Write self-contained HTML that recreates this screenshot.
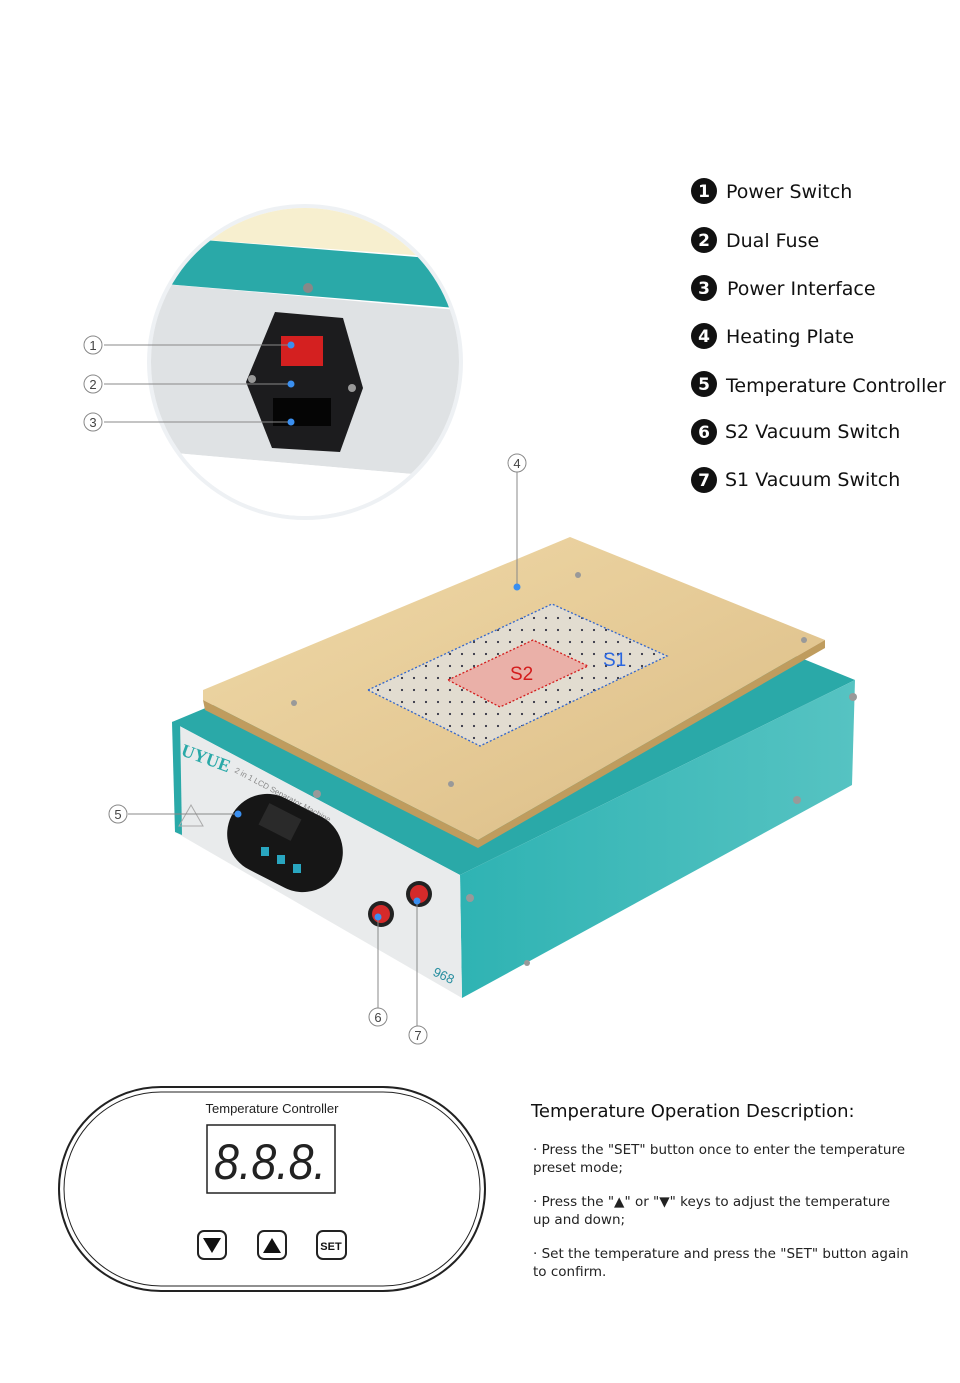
<!DOCTYPE html>
<html><head><meta charset="utf-8"><style>
body{margin:0;background:#fff;}
svg{display:block;font-family:"Liberation Sans","DejaVu Sans",sans-serif;}
</style></head><body>
<svg width="960" height="1383" viewBox="0 0 960 1383" xmlns="http://www.w3.org/2000/svg">
<rect width="960" height="1383" fill="#fff"/>
<defs>
<linearGradient id="gold" x1="0" y1="0" x2="1" y2="1"><stop offset="0" stop-color="#efd9a8"/><stop offset="0.5" stop-color="#e6cb97"/><stop offset="1" stop-color="#d9bb84"/></linearGradient>
<linearGradient id="teal" x1="0" y1="0" x2="1" y2="0"><stop offset="0" stop-color="#2fb3b3"/><stop offset="1" stop-color="#56c3c2"/></linearGradient>
<clipPath id="cc"><circle cx="305" cy="362" r="154"/></clipPath>
<pattern id="dots" width="12" height="12" patternUnits="userSpaceOnUse"><circle cx="6" cy="6" r="1.1" fill="#334"/></pattern>
</defs>

<circle cx="305" cy="362" r="158" fill="#eef1f4"/>
<g clip-path="url(#cc)">
<rect x="140" y="200" width="340" height="330" fill="#fff"/>
<polygon points="140,200 480,200 480,260 140,235" fill="#f7efcf"/>
<polygon points="140,235 480,262 480,310 140,282" fill="#2aa9a8"/>
<polygon points="140,282 480,312 480,480 140,450" fill="#dfe2e4"/>
<polygon points="140,450 480,480 480,530 140,530" fill="#fff"/>
<polygon points="275,312 343,318 363,388 340,452 272,448 246,382" fill="#1c1c1e"/>
<rect x="281" y="336" width="42" height="30" fill="#d42020"/>
<rect x="273" y="398" width="58" height="28" fill="#050505"/>
<circle cx="308" cy="288" r="5" fill="#888"/>
<circle cx="252" cy="379" r="4" fill="#999"/><circle cx="352" cy="388" r="4" fill="#999"/>
</g>
<g stroke="#888" stroke-width="1" fill="none">
<line x1="104" y1="345" x2="291" y2="345"/><line x1="104" y1="384" x2="291" y2="384"/><line x1="104" y1="422" x2="291" y2="422"/>
<circle cx="93" cy="345" r="9"/><circle cx="93" cy="384" r="9"/><circle cx="93" cy="422" r="9"/>
</g>
<g font-size="13" fill="#444" text-anchor="middle"><text x="93" y="350">1</text><text x="93" y="389">2</text><text x="93" y="427">3</text></g>
<g fill="#3a8ff0"><circle cx="291" cy="345" r="3.5"/><circle cx="291" cy="384" r="3.5"/><circle cx="291" cy="422" r="3.5"/></g>

<g font-size="19" fill="#111" font-family="DejaVu Sans, sans-serif">
<g fill="#111"><circle cx="704" cy="191" r="13"/><circle cx="704" cy="240" r="13"/><circle cx="704" cy="288" r="13"/><circle cx="704" cy="336" r="13"/><circle cx="704" cy="384" r="13"/><circle cx="704" cy="432" r="13"/><circle cx="704" cy="480" r="13"/></g>
<g fill="#fff" font-size="17" font-weight="bold" text-anchor="middle"><text x="704" y="197">1</text><text x="704" y="246">2</text><text x="704" y="294">3</text><text x="704" y="342">4</text><text x="704" y="390">5</text><text x="704" y="438">6</text><text x="704" y="486">7</text></g>
<text x="726" y="198">Power Switch</text>
<text x="726" y="247">Dual Fuse</text>
<text x="727" y="295">Power Interface</text>
<text x="726" y="343">Heating Plate</text>
<text x="726" y="392">Temperature Controller</text>
<text x="725" y="438">S2 Vacuum Switch</text>
<text x="725" y="486">S1 Vacuum Switch</text>
</g>

<polygon points="172,722 560,560 855,680 460,875" fill="#2aa9a8"/>
<polygon points="460,875 855,680 852,785 462,998" fill="url(#teal)"/>
<polygon points="172,722 460,875 462,998 175,832" fill="#e9ebec"/>
<polygon points="172,722 180,720 182,835 175,832" fill="#2aa9a8"/>
<polygon points="203,690 570,537 825,640 478,840 203,700" fill="url(#gold)"/>
<polygon points="203,700 478,840 825,640 825,648 478,848 205,710" fill="#bf9c5e"/>
<polygon points="368,690 552,604 667,656 480,746" fill="#e2dcd0"/>
<polygon points="368,690 552,604 667,656 480,746" fill="url(#dots)" stroke="#3366cc" stroke-width="1.3" stroke-dasharray="2,2"/>
<polygon points="448,680 533,640 588,666 500,707" fill="#eab0a8" stroke="#d41c1c" stroke-width="1.3" stroke-dasharray="2,2"/>
<text x="510" y="680" font-size="19" fill="#d41c1c">S2</text>
<text x="603" y="666" font-size="19" fill="#2a66e0">S1</text>
<g fill="#999"><circle cx="578" cy="575" r="3"/><circle cx="294" cy="703" r="3"/><circle cx="451" cy="784" r="3"/><circle cx="804" cy="640" r="3"/><circle cx="317" cy="794" r="4"/><circle cx="470" cy="898" r="4"/><circle cx="797" cy="800" r="4"/><circle cx="853" cy="697" r="4"/><circle cx="527" cy="963" r="3"/></g>
<text x="180" y="755" font-size="18" font-weight="bold" fill="#2aa9a8" font-family="Liberation Serif,serif" transform="rotate(20 180 755)">UYUE</text>
<text x="234" y="772" font-size="8" fill="#888" transform="rotate(28 234 772)">2 in 1 LCD Separator Machine</text>
<rect x="225" y="803" width="120" height="80" rx="40" fill="#161616" transform="rotate(27 285 843)"/>
<rect x="262" y="810" width="36" height="24" fill="#2a2a2a" transform="rotate(27 280 822)"/>
<g fill="#29a6c0"><rect x="261" y="847" width="8" height="9"/><rect x="277" y="855" width="8" height="9"/><rect x="293" y="864" width="8" height="9"/></g>
<circle cx="381" cy="914" r="13" fill="#222"/><circle cx="381" cy="914" r="9" fill="#d52a2a"/>
<circle cx="419" cy="894" r="13" fill="#222"/><circle cx="419" cy="894" r="9" fill="#d52a2a"/>
<text x="432" y="975" font-size="13" fill="#2a8fa0" transform="rotate(25 432 975)">968</text>
<polygon points="191,805 203,826 179,826" fill="none" stroke="#aaa"/>
<g stroke="#888" fill="none">
<line x1="517" y1="472" x2="517" y2="587"/><circle cx="517" cy="463" r="9"/>
<line x1="128" y1="814" x2="238" y2="814"/><circle cx="118" cy="814" r="9"/>
<line x1="378" y1="917" x2="378" y2="1008"/><circle cx="378" cy="1017" r="9"/>
<line x1="417" y1="898" x2="417" y2="1026"/><circle cx="418" cy="1035" r="9"/>
</g>
<g font-size="13" fill="#444" text-anchor="middle"><text x="517" y="468">4</text><text x="118" y="819">5</text><text x="378" y="1022">6</text><text x="418" y="1040">7</text></g>
<g fill="#3a8ff0"><circle cx="517" cy="587" r="3.5"/><circle cx="238" cy="814" r="3.5"/><circle cx="378" cy="917" r="3.5"/><circle cx="417" cy="901" r="3.5"/></g>

<rect x="59" y="1087" width="426" height="204" rx="102" fill="none" stroke="#222" stroke-width="2"/>
<rect x="64" y="1092" width="416" height="194" rx="97" fill="none" stroke="#222" stroke-width="1"/>
<text x="272" y="1113" font-size="13" fill="#222" text-anchor="middle">Temperature Controller</text>
<rect x="207" y="1125" width="128" height="68" fill="#fff" stroke="#222" stroke-width="1.5"/>
<text x="214" y="1179" font-size="50" fill="#222" font-style="italic" font-family="Liberation Sans,sans-serif" textLength="112" lengthAdjust="spacingAndGlyphs">8.8.8.</text>
<rect x="198" y="1231" width="28" height="28" rx="6" fill="none" stroke="#222" stroke-width="2"/>
<polygon points="203,1238 221,1238 212,1253" fill="#111"/>
<rect x="258" y="1231" width="28" height="28" rx="6" fill="none" stroke="#222" stroke-width="2"/>
<polygon points="263,1253 281,1253 272,1238" fill="#111"/>
<rect x="317" y="1231" width="29" height="28" rx="6" fill="none" stroke="#222" stroke-width="2"/>
<text x="331" y="1250" font-size="11" fill="#111" text-anchor="middle" font-weight="bold">SET</text>

<g font-family="DejaVu Sans, sans-serif">
<text x="531" y="1117" font-size="18" fill="#111">Temperature Operation Description:</text>
<g font-size="13.5" fill="#222">
<text x="533" y="1154">· Press the "SET" button once to enter the temperature</text>
<text x="533" y="1172">preset mode;</text>
<text x="533" y="1206">· Press the "▲" or "▼" keys to adjust the temperature</text>
<text x="533" y="1224">up and down;</text>
<text x="533" y="1258">· Set the temperature and press the "SET" button again</text>
<text x="533" y="1276">to confirm.</text>
</g>
</g>
</svg>
</body></html>
